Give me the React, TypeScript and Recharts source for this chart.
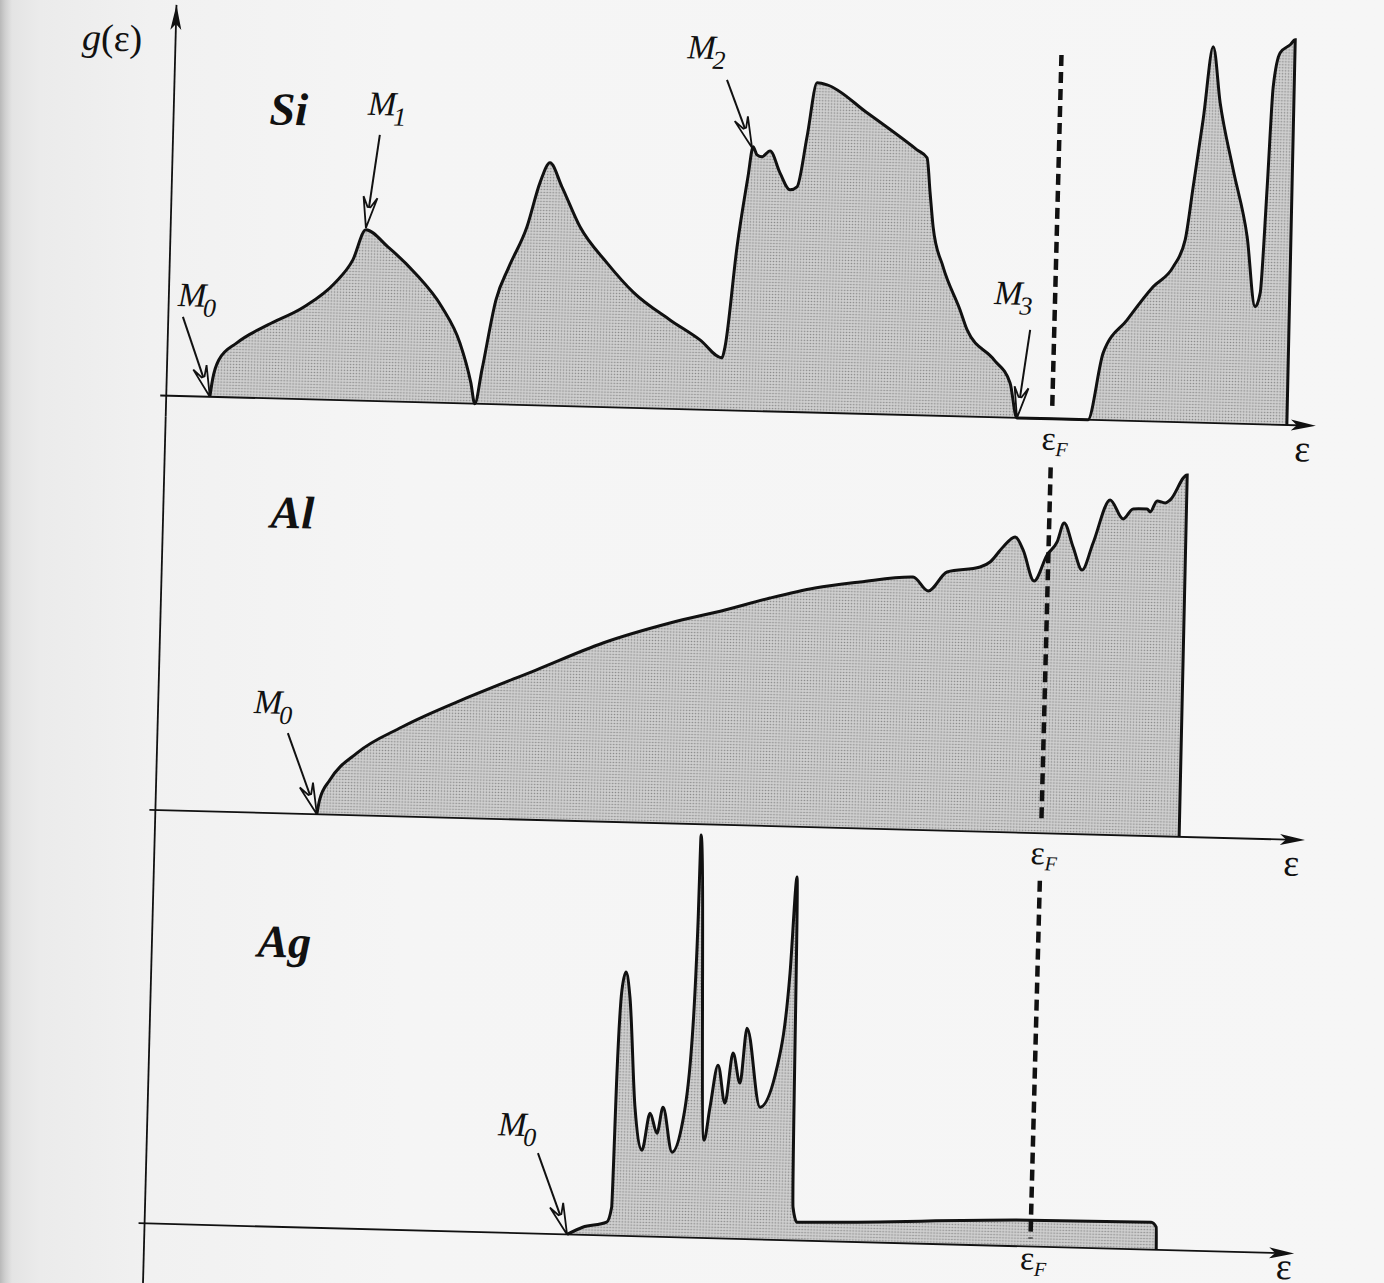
import React from 'react';
import { AreaChart, Area, XAxis, YAxis, ReferenceLine, ReferenceDot } from 'recharts';

// ---------- data (energy in arbitrary units, g = density of states in arbitrary units) ----------
const siEnergy = [43.6, 46, 51.6, 69.2, 99.7, 135.2, 165.6, 183, 195.2, 217.7, 245.4, 273.2, 292.2, 304.2, 308.7, 314.9, 327.1, 339.2, 356.2, 368, 377.5, 390.1, 409.2, 437.1, 464.9, 501.6, 532.1, 554.6, 557.3, 566.7, 575.8, 580.1, 584.3, 589.3, 597.2, 607.7, 618.2, 625.1, 633.8, 642.4, 652.5, 693.2, 744.1, 754.3, 758.3, 762.2, 773.2, 791.3, 798.9, 826.6, 843.2, 851, 922, 935.5, 958.6, 983.7, 1003.2, 1014.5, 1021.1, 1029.3, 1037.4, 1045.9, 1060.7, 1076.4, 1086.2, 1090.9, 1095.1, 1098.5, 1104.6, 1114.4, 1119.3, 1121];
const siDos = [0, 18, 37.1, 54.6, 73.4, 92.3, 117.1, 140.6, 171, 154.5, 129.2, 95.9, 60.4, 20.7, 0, 34, 104.4, 137.7, 178.2, 222.5, 242.8, 219.1, 179.6, 144.3, 115, 88.9, 69.7, 52.3, 63.4, 163.7, 234, 264.1, 256.2, 254.3, 260.5, 238.8, 222.1, 225.3, 275.5, 329.8, 328, 301.1, 265.4, 257.7, 222.7, 188.8, 149.1, 106.5, 86.7, 57.4, 34.8, 0, 0, 67.3, 100.9, 134.6, 155.1, 182.4, 235.6, 302.9, 376.2, 320.3, 253.7, 187, 117.3, 131.4, 237.6, 337.7, 371.9, 380.2, 385.3, 0];

const alEnergy = [161.5, 164, 173.6, 199.9, 244.3, 310.5, 376.8, 443.1, 509.5, 564.2, 608.9, 653.6, 698.5, 751.3, 766.7, 785.2, 818.1, 827.9, 840.5, 852.3, 860.6, 872.4, 884.7, 894.4, 900.9, 910.5, 920.1, 930.4, 946.3, 959.8, 969.5, 983.5, 986.6, 993.3, 1001.4, 1006.3, 1022.7, 1024.1];
const alDos = [0, 15, 34.5, 62.2, 89.4, 121.2, 149.9, 178.7, 200.4, 214.9, 228, 239.2, 246.4, 252.8, 239.2, 258.7, 264.5, 269.8, 285.1, 295.5, 282.7, 252, 278.3, 291.6, 310.7, 287, 264.2, 291.5, 335, 316.3, 326.6, 326.9, 324, 335.2, 333.4, 336.5, 362, 0];

const agEnergy = [422.6, 438, 461.9, 466.5, 468.3, 471.1, 474.7, 479.3, 487.2, 495.3, 502.4, 509.9, 515.2, 525.4, 535.5, 542.5, 545.4, 546.1, 557.1, 562.2, 569.1, 577.1, 583.8, 591.6, 597.1, 612.2, 628.2, 638.7, 643.2, 647.8, 652.2, 685.2, 885.2, 1006.2, 1011.4, 1012];
const agDos = [0, 7.6, 13.3, 28.4, 162.5, 245.7, 263.8, 238.9, 129, 86.2, 123.4, 103.6, 129.7, 85, 117.3, 197.5, 314.7, 402.7, 97.8, 131, 173.2, 135.4, 185.6, 155.8, 210.9, 132.3, 172.7, 267.1, 363.3, 33.1, 18.3, 19.1, 26.4, 27.5, 22.7, 0];

const fermiEnergy = 886;
const axisEnd = 1150;

// critical-point annotations: tip on the curve, tail of the arrow, label anchor
type Mark = { sub: string; tip: [number, number]; tail: [number, number]; label: [number, number] };
const siMarks: Mark[] = [
  { sub: '0', tip: [43.6, 0], tail: [14.6, 79.2], label: [9.2, 90] },
  { sub: '1', tip: [195.2, 173], tail: [206.7, 266.3], label: [194.2, 286] },
  { sub: '2', tip: [579.1, 263.1], tail: [552.3, 330.4], label: [512, 351] },
  { sub: '3', tip: [851, 0], tail: [861.9, 88.4], label: [825.2, 113.4] },
];
const alMarks: Mark[] = [{ sub: '0', tip: [161.5, 0], tail: [130.4, 80.4], label: [95.9, 99.5] }];
const agMarks: Mark[] = [{ sub: '0', tip: [422.6, 0], tail: [391.4, 80.5], label: [350.9, 97.4] }];

const siData = siEnergy.map((e, i) => ({ e, g: siDos[i] }));
const alData = alEnergy.map((e, i) => ({ e, g: alDos[i] }));
const agData = agEnergy.map((e, i) => ({ e, g: agDos[i] }));

// ---------- styling ----------
const W = 1384;
const FONT = "'Liberation Serif', 'Times New Roman', serif";
const INK = '#111111';
const PAPER = '#f6f6f6';

const xArrow = (p: any) => (
  <polygon points={`${p.cx},${p.cy} ${p.cx - 25},${p.cy - 5.5} ${p.cx - 19},${p.cy} ${p.cx - 25},${p.cy + 5.5}`} fill={INK} />
);
const yArrow = (p: any) => (
  <polygon points={`${p.cx},${p.cy} ${p.cx - 5.5},${p.cy + 25} ${p.cx},${p.cy + 19} ${p.cx + 5.5},${p.cy + 25}`} fill={INK} />
);

const arrowShape = (m: Mark) => (p: any) => {
  const dx = m.tip[0] - m.tail[0];
  const dy = -(m.tip[1] - m.tail[1]);
  const len = Math.hypot(dx, dy);
  const ang = (Math.atan2(dy, dx) * 180) / Math.PI;
  return (
    <g transform={`translate(${p.cx},${p.cy}) rotate(${ang})`}>
      <line x1={-len} y1={0} x2={-21} y2={0} stroke={INK} strokeWidth={2} />
      <polygon points="0,0 -31,-7 -21,-1.5 -21,1.5 -31,7" fill={PAPER} stroke={INK} strokeWidth={1.8} strokeLinejoin="miter" />
    </g>
  );
};

const mLabel = (sub: string) => (p: any) => (
  <text x={p.cx} y={p.cy} fontFamily={FONT} fontStyle="italic" fontSize={34} fill={INK}>
    M
    <tspan fontSize={26} dx={-3} dy={10}>{sub}</tspan>
  </text>
);

const epsLabel = (p: any) => (
  <text x={p.cx} y={p.cy + 9} fontFamily={FONT} fontSize={38} fill={INK} textAnchor="middle">ε</text>
);
const fermiLabel = (p: any) => (
  <text x={p.cx - 14} y={p.cy + 7} fontFamily={FONT} fontSize={34} fill={INK}>
    ε
    <tspan fontSize={20} fontStyle="italic" dy={6}>F</tspan>
  </text>
);
const nameLabel = (name: string) => (p: any) => (
  <text x={p.cx} y={p.cy} fontFamily={FONT} fontStyle="italic" fontWeight="bold" fontSize={46} fill={INK} textAnchor="middle">
    {name}
  </text>
);
const gLabel = (p: any) => (
  <text x={p.cx} y={p.cy} fontFamily={FONT} fontSize={38} fill={INK}>
    <tspan fontStyle="italic">g</tspan>(ε)
  </text>
);

type PanelProps = {
  id: string;
  top: number;
  height: number;
  yDomain: [number, number];
  data: { e: number; g: number }[];
  marks: Mark[];
  name: string;
  namePos: [number, number];
  yAxisSpan: [number, number];
  dashSpan: [number, number];
  fermiLabelY: number;
  epsLabelPos: [number, number];
  first?: boolean;
};

function Panel(props: PanelProps) {
  const { id, top, height, yDomain, data, marks, name, namePos, yAxisSpan, dashSpan, fermiLabelY, epsLabelPos, first } = props;
  return (
    <div style={{ position: 'absolute', left: 0, top, width: W, height }}>
      <AreaChart width={W} height={height} data={data} margin={{ top: 0, right: 0, bottom: 0, left: 0 }}>
        <defs>
          <pattern id={`st-${id}`} width="3" height="3" patternUnits="userSpaceOnUse">
            <rect width="3" height="3" fill="#cfcfcf" />
            <circle cx="1.5" cy="1.5" r="0.8" fill="#888888" />
          </pattern>
        </defs>
        <XAxis type="number" dataKey="e" domain={[-160, 1224]} hide allowDataOverflow />
        <YAxis type="number" domain={yDomain} hide allowDataOverflow />
        <Area
          type="monotoneX"
          dataKey="g"
          baseValue={0}
          stroke={INK}
          strokeWidth={3}
          fill={`url(#st-${id})`}
          fillOpacity={1}
          dot={false}
          activeDot={false}
          isAnimationActive={false}
        />
        <ReferenceLine segment={[{ x: 0, y: yAxisSpan[0] }, { x: 0, y: yAxisSpan[1] }]} stroke={INK} strokeWidth={1.8} ifOverflow="visible" />
        <ReferenceLine segment={[{ x: -6, y: 0 }, { x: axisEnd - 10, y: 0 }]} stroke={INK} strokeWidth={1.8} ifOverflow="visible" />
        <ReferenceDot x={axisEnd} y={0} r={1} shape={xArrow} ifOverflow="visible" />
        {first && <ReferenceDot x={0} y={yAxisSpan[0]} r={1} shape={yArrow} ifOverflow="visible" />}
        {first && <ReferenceDot x={-93.5} y={343.5} r={1} shape={gLabel} ifOverflow="visible" />}
        <ReferenceLine
          segment={[{ x: fermiEnergy, y: dashSpan[0] }, { x: fermiEnergy, y: dashSpan[1] }]}
          stroke={INK}
          strokeWidth={4.5}
          strokeDasharray="11 6"
          ifOverflow="visible"
        />
        <ReferenceDot x={fermiEnergy + 4} y={fermiLabelY} r={1} shape={fermiLabel} ifOverflow="visible" />
        <ReferenceDot x={epsLabelPos[0]} y={epsLabelPos[1]} r={1} shape={epsLabel} ifOverflow="visible" />
        <ReferenceDot x={namePos[0]} y={namePos[1]} r={1} shape={nameLabel(name)} ifOverflow="visible" />
        {marks.map((m, i) => (
          <ReferenceDot key={`a${i}`} x={m.tip[0]} y={m.tip[1]} r={1} shape={arrowShape(m)} ifOverflow="visible" />
        ))}
        {marks.map((m, i) => (
          <ReferenceDot key={`l${i}`} x={m.label[0]} y={m.label[1]} r={1} shape={mLabel(m.sub)} ifOverflow="visible" />
        ))}
      </AreaChart>
    </div>
  );
}

export default function App() {
  return (
    <div
      style={{
        position: 'absolute',
        left: 0,
        top: 0,
        width: 1384,
        height: 1283,
        overflow: 'hidden',
        background:
          'linear-gradient(to right, #b9b9b9 0px, #cfcfcf 5px, #e4e4e4 12px, #ebebeb 40px, #f1f1f1 150px, #f5f5f5 400px, #f6f6f6 100%)',
      }}
    >
      <div
        style={{
          position: 'absolute',
          left: 0,
          top: 0,
          width: 1384,
          height: 1283,
          transform: 'rotate(1.5deg)',
          transformOrigin: '692px 641px',
        }}
      >
        <Panel
          id="si"
          top={0}
          height={480}
          yDomain={[-70.5, 409.5]}
          data={siData}
          marks={siMarks}
          name="Si"
          namePos={[115, 274]}
          yAxisSpan={[390.9, -20.5]}
          dashSpan={[364, 7]}
          fermiLabelY={-24}
          epsLabelPos={[1137, -27]}
          first
        />
        <Panel
          id="al"
          top={430}
          height={480}
          yDomain={[-86, 394]}
          data={alData}
          marks={alMarks}
          name="Al"
          namePos={[129.2, 285.5]}
          yAxisSpan={[394, -6]}
          dashSpan={[366, 10]}
          fermiLabelY={-24}
          epsLabelPos={[1137, -27]}
        />
        <Panel
          id="ag"
          top={820}
          height={480}
          yDomain={[-62.5, 417.5]}
          data={agData}
          marks={agMarks}
          name="Ag"
          namePos={[132.4, 269.8]}
          yAxisSpan={[407.5, -62.5]}
          dashSpan={[366, 8]}
          fermiLabelY={-16}
          epsLabelPos={[1140, -17]}
        />
      </div>
    </div>
  );
}
